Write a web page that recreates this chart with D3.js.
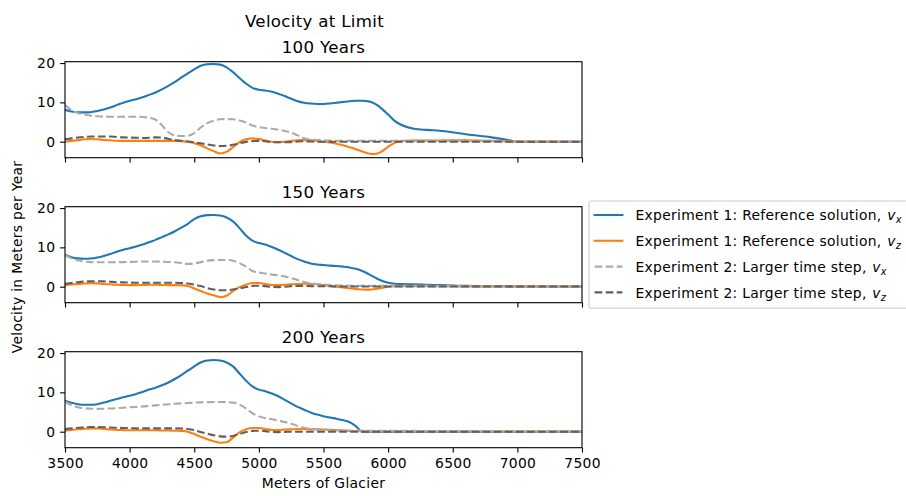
<!DOCTYPE html>
<html>
<head>
<meta charset="utf-8">
<script src="https://cdn.jsdelivr.net/npm/d3@7"></script>
<style>
  html, body { margin: 0; padding: 0; background: #fff; }
  svg { display: block; font-family: "DejaVu Sans", sans-serif; }
  svg text { letter-spacing: 0.3px; }
</style>
</head>
<body>
<svg id="chart" width="906" height="496"></svg>
<script>
// Sampling positions along the glacier (m)
const xs = [
  3500, 3550, 3600, 3650, 3700, 3750, 3800, 3850, 3900, 3950,
  4000, 4050, 4100, 4150, 4200, 4250, 4300, 4350, 4400, 4450,
  4500, 4550, 4600, 4650, 4700, 4750, 4800, 4850, 4900, 4950,
  5000, 5050, 5100, 5150, 5200, 5250, 5300, 5350, 5400, 5450,
  5500, 5550, 5600, 5650, 5700, 5750, 5800, 5850, 5900, 5950,
  6000, 6050, 6100,
  6200, 6300, 6400, 6500, 6600, 6700, 6800, 6900, 7000, 7100, 7200, 7300, 7400, 7500
];

const panelTitles = ["100 Years", "150 Years", "200 Years"];
const xTicks = [3500, 4000, 4500, 5000, 5500, 6000, 6500, 7000, 7500];
const yTicks = [0, 10, 20];

// ---- 100 years ----
const vx1_100 = [
  8.1, 7.7, 7.5, 7.45, 7.5, 7.8, 8.2, 8.7, 9.3, 9.9,
  10.4, 10.8, 11.3, 11.9, 12.5, 13.3, 14.2, 15.2, 16.3, 17.4,
  18.4, 19.3, 19.7, 19.75, 19.6, 18.9, 17.7, 16.2, 14.8, 13.7,
  13.2, 13.0, 12.7, 12.2, 11.6, 10.9, 10.3, 9.9, 9.7, 9.6,
  9.6, 9.7, 9.9, 10.1, 10.3, 10.4, 10.4, 10.25, 9.6, 8.4,
  6.9, 5.3, 4.3,
  3.3, 3.0, 2.8, 2.4, 1.9, 1.5, 1.1, 0.6, 0.0, 0, 0, 0, 0, 0
];
const vz1_100 = [
  0.0, 0.2, 0.4, 0.6, 0.7, 0.6, 0.45, 0.35, 0.25, 0.2,
  0.2, 0.2, 0.2, 0.2, 0.2, 0.2, 0.2, 0.2, 0.1, 0.0,
  -0.4, -0.9, -1.7, -2.4, -3.0, -2.6, -1.4, -0.1, 0.6, 0.85,
  0.65, 0.3, 0.0, -0.1, 0.0, 0.2, 0.35, 0.4, 0.35, 0.2,
  0.0, -0.2, -0.5, -0.9, -1.4, -1.9, -2.5, -3.0, -3.15, -2.5,
  -1.3, -0.3, 0.15,
  0.3, 0.3, 0.3, 0.35, 0.35, 0.3, 0.25, 0.15, 0.05, 0, 0, 0, 0, 0
];
const vx2_100 = [
  9.4, 8.0, 7.3, 6.9, 6.6, 6.45, 6.4, 6.35, 6.35, 6.35,
  6.35, 6.35, 6.3, 6.1, 5.6, 4.2, 2.4, 1.6, 1.45, 1.5,
  2.2, 3.6, 4.7, 5.3, 5.7, 5.75, 5.7, 5.4, 4.9, 4.1,
  3.7, 3.5, 3.3, 3.05, 2.7, 2.3, 1.6, 0.9, 0.55, 0.45,
  0.35, 0.3, 0.25, 0.25, 0.2, 0.2, 0.2, 0.2, 0.2, 0.2,
  0.2, 0.2, 0.2,
  0.2, 0.2, 0.2, 0.2, 0.15, 0.15, 0.1, 0.1, 0.05, 0.05, 0.05, 0.05, 0.05, 0.05
];
const vz2_100 = [
  0.6, 0.85, 1.05, 1.2, 1.3, 1.3, 1.3, 1.3, 1.2, 1.1,
  1.05, 1.0, 0.95, 1.0, 1.1, 1.05, 0.7, 0.4, 0.2, 0.05,
  -0.15, -0.4, -0.7, -0.95, -1.1, -1.05, -0.8, -0.4, -0.05, 0.15,
  0.2, 0.1, -0.1, -0.15, -0.15, -0.1, 0.05, 0.1, 0.05, 0.0,
  0, 0, 0, 0, 0, 0, 0, 0, 0, 0,
  0, 0, 0,
  0, 0, 0, 0, 0, 0, 0, 0, 0, 0, 0, 0, 0, 0
];

// ---- 150 years ----
const vx1_150 = [
  8.1, 7.5, 7.2, 7.1, 7.15, 7.4, 7.8, 8.3, 8.9, 9.4,
  9.8, 10.2, 10.7, 11.3, 11.9, 12.6, 13.3, 14.1, 15.0, 16.0,
  17.2, 17.9, 18.2, 18.25, 18.1, 17.6, 16.6, 14.9, 13.0, 11.7,
  11.1, 10.7, 10.1, 9.4, 8.6, 7.8, 7.0, 6.4, 5.9, 5.65,
  5.5, 5.35, 5.25, 5.1, 4.9, 4.55, 4.0, 3.2, 2.3, 1.5,
  1.0, 0.75, 0.65,
  0.6, 0.5, 0.4, 0.3, 0.2, 0.15, 0.1, 0.1, 0.05, 0.05, 0.05, 0.05, 0.05, 0.05
];
const vz1_150 = [
  0.4, 0.55, 0.7, 0.8, 0.9, 0.85, 0.7, 0.6, 0.5, 0.45,
  0.4, 0.4, 0.45, 0.5, 0.5, 0.45, 0.4, 0.4, 0.35, 0.2,
  -0.45, -1.1, -1.75, -2.2, -2.65, -2.3, -1.1, -0.1, 0.5, 0.95,
  0.95, 0.7, 0.45, 0.4, 0.5, 0.6, 0.7, 0.75, 0.7, 0.6,
  0.4, 0.2, 0.0, -0.2, -0.4, -0.6, -0.7, -0.75, -0.6, -0.3,
  0.0, 0.1, 0.1,
  0.1, 0.1, 0.1, 0.1, 0.05, 0.05, 0.05, 0.05, 0.05, 0.05, 0.05, 0.05, 0.05, 0.05
];
const vx2_150 = [
  8.1, 7.2, 6.7, 6.4, 6.25, 6.2, 6.2, 6.2, 6.25, 6.25,
  6.3, 6.35, 6.4, 6.4, 6.4, 6.35, 6.3, 6.2, 6.0, 5.8,
  5.9, 6.25, 6.6, 6.75, 6.8, 6.8, 6.6, 6.0, 5.1, 4.0,
  3.6, 3.35, 3.1, 2.9, 2.6, 2.2, 1.7, 1.2, 0.85, 0.7,
  0.55, 0.4, 0.35, 0.3, 0.25, 0.25, 0.2, 0.2, 0.2, 0.2,
  0.2, 0.2, 0.2,
  0.2, 0.2, 0.15, 0.15, 0.1, 0.1, 0.1, 0.1, 0.05, 0.05, 0.05, 0.05, 0.05, 0.05
];
const vz2_150 = [
  0.75, 0.95, 1.15, 1.3, 1.4, 1.4, 1.35, 1.25, 1.15, 1.1,
  1.05, 1.0, 1.0, 1.0, 1.0, 1.0, 1.0, 1.0, 0.95, 0.8,
  0.55, 0.15, -0.35, -0.7, -0.9, -0.9, -0.7, -0.45, -0.1, 0.2,
  0.25, 0.15, -0.05, -0.1, 0.0, 0.15, 0.2, 0.2, 0.15, 0.1,
  0.1, 0.1, 0.05, 0.05, 0.05, 0.05, 0.05, 0.05, 0.05, 0.05,
  0.05, 0.05, 0.05,
  0.05, 0.05, 0.05, 0.05, 0.05, 0.05, 0.05, 0.05, 0.05, 0.05, 0.05, 0.05, 0.05, 0.05
];

// ---- 200 years ----
const vx1_200 = [
  7.9, 7.35, 7.0, 6.85, 6.85, 7.0, 7.4, 7.85, 8.3, 8.75,
  9.15, 9.6, 10.1, 10.7, 11.2, 11.8, 12.5, 13.4, 14.4, 15.5,
  16.6, 17.6, 18.1, 18.25, 18.1, 17.6, 16.6, 14.8, 13.0, 11.5,
  10.7, 10.3, 9.7, 9.0, 8.1, 7.2, 6.3, 5.6, 4.9, 4.35,
  3.95, 3.6, 3.3, 2.95, 2.45, 1.4, 0.0, 0, 0, 0,
  0, 0, 0,
  0, 0, 0, 0, 0, 0, 0, 0, 0, 0, 0, 0, 0, 0
];
const vz1_200 = [
  0.25, 0.45, 0.6, 0.75, 0.85, 0.85, 0.7, 0.55, 0.45, 0.4,
  0.35, 0.35, 0.35, 0.35, 0.35, 0.3, 0.3, 0.25, 0.2, 0.0,
  -0.6, -1.3, -1.9, -2.4, -2.8, -2.7, -1.5, -0.2, 0.6, 0.95,
  0.95, 0.7, 0.45, 0.45, 0.55, 0.6, 0.65, 0.65, 0.6, 0.6,
  0.55, 0.5, 0.4, 0.3, 0.2, 0.15, 0.1, 0.05, 0.05, 0.05,
  0.05, 0.05, 0.05,
  0.05, 0.05, 0.05, 0.05, 0.05, 0.05, 0.05, 0.05, 0.05, 0.05, 0.05, 0.05, 0.05, 0.05
];
const vx2_200 = [
  7.7, 6.7, 6.2, 5.95, 5.85, 5.8, 5.85, 5.9, 6.0, 6.1,
  6.2, 6.3, 6.4, 6.55, 6.7, 6.85, 7.0, 7.1, 7.2, 7.3,
  7.4, 7.45, 7.5, 7.55, 7.55, 7.5, 7.4, 6.9, 5.9, 4.7,
  3.9, 3.45, 3.15, 2.8, 2.45, 2.0, 1.5, 1.0, 0.75, 0.6,
  0.5, 0.4, 0.35, 0.3, 0.25, 0.2, 0.2, 0.2, 0.2, 0.2,
  0.2, 0.2, 0.2,
  0.2, 0.15, 0.15, 0.1, 0.1, 0.1, 0.05, 0.05, 0.05, 0.05, 0.05, 0.05, 0.05, 0.05
];
const vz2_200 = [
  0.65, 0.85, 1.0, 1.1, 1.2, 1.2, 1.15, 1.05, 1.0, 0.95,
  0.9, 0.85, 0.85, 0.85, 0.85, 0.85, 0.85, 0.85, 0.8, 0.7,
  0.4, -0.1, -0.5, -0.9, -1.2, -1.25, -1.1, -0.6, -0.1, 0.2,
  0.25, 0.15, -0.05, -0.1, -0.05, 0, 0, 0, 0, 0,
  0, 0, 0, 0, 0, 0, 0, 0, 0, 0,
  0, 0, 0,
  0, 0, 0, 0, 0, 0, 0, 0, 0, 0, 0, 0, 0, 0
];

// Legend entries: plain text part and the velocity component subscript
const seriesNames = [
  ["Experiment 1: Reference solution, ", "x"],
  ["Experiment 1: Reference solution, ", "z"],
  ["Experiment 2: Larger time step, ", "x"],
  ["Experiment 2: Larger time step, ", "z"]
];

const panelSeries = [
  [vx1_100, vz1_100, vx2_100, vz2_100],
  [vx1_150, vz1_150, vx2_150, vz2_150],
  [vx1_200, vz1_200, vx2_200, vz2_200]
];

// ---- drawing ----
const PT = 100 / 72;                       // points -> pixels
const fontTick = 10 * PT, fontTitle = 12 * PT;
const styles = [
  { color: "#1f77b4", dash: null },
  { color: "#ff7f0e", dash: null },
  { color: "#aaaaaa", dash: [3.7 * 1.5 * PT, 1.6 * 1.5 * PT] },
  { color: "#5f5f5f", dash: [3.7 * 1.5 * PT, 1.6 * 1.5 * PT] }
];

const svg = d3.select("#chart");
const axLeft = 65, axRight = 582, axH = 96;
const axTops = [61.7, 206.7, 351.7];
const x = d3.scaleLinear().domain([3500, 7500]).range([axLeft, axRight]);

svg.append("text")
  .attr("x", 314.5).attr("y", 27)
  .attr("text-anchor", "middle")
  .attr("font-size", fontTitle)
  .attr("fill", "#000")
  .text("Velocity at Limit");

panelSeries.forEach((series, p) => {
  const top = axTops[p];
  const y = d3.scaleLinear().domain([-4.07, 20.34]).range([top + axH, top]);
  const g = svg.append("g");

  const clipId = "clip" + p;
  svg.append("clipPath").attr("id", clipId)
    .append("rect")
    .attr("x", axLeft).attr("y", top)
    .attr("width", axRight - axLeft).attr("height", axH);

  const line = d3.line()
    .x((d, i) => x(xs[i]))
    .y(d => y(d))
    .curve(d3.curveMonotoneX);

  const lines = g.append("g").attr("clip-path", `url(#${clipId})`);
  series.forEach((vals, s) => {
    lines.append("path")
      .datum(vals)
      .attr("d", line)
      .attr("fill", "none")
      .attr("stroke", styles[s].color)
      .attr("stroke-width", 1.5 * PT)
      .attr("stroke-linejoin", "round")
      .attr("stroke-linecap", styles[s].dash ? "butt" : "square")
      .attr("stroke-dasharray", styles[s].dash ? styles[s].dash.join(",") : null);
  });

  // axes
  const yAxis = d3.axisLeft(y).tickValues(yTicks)
    .tickSize(3.5 * PT).tickPadding(3.5 * PT).tickFormat(d3.format("d"));
  const ya = g.append("g").attr("transform", `translate(${axLeft},0)`).call(yAxis);

  const xAxis = d3.axisBottom(x).tickValues(xTicks)
    .tickSize(3.5 * PT).tickPadding(3.5 * PT)
    .tickFormat(p === 2 ? d3.format("d") : () => "");
  const xa = g.append("g").attr("transform", `translate(0,${top + axH})`).call(xAxis);

  [ya, xa].forEach(a => {
    a.select(".domain").remove();
    a.attr("font-family", null).attr("font-size", null);
    a.selectAll(".tick line").attr("stroke", "#000").attr("stroke-width", 0.8 * PT);
    a.selectAll(".tick text").attr("fill", "#000").attr("font-size", fontTick);
  });
  xa.selectAll(".tick text").attr("dy", "0.76em");

  // frame
  g.append("rect")
    .attr("x", axLeft).attr("y", top)
    .attr("width", axRight - axLeft).attr("height", axH)
    .attr("fill", "none")
    .attr("stroke", "#000")
    .attr("stroke-width", 0.8 * PT);

  g.append("text")
    .attr("x", (axLeft + axRight) / 2).attr("y", top - 6 * PT)
    .attr("text-anchor", "middle")
    .attr("font-size", fontTitle)
    .attr("fill", "#000")
    .text(panelTitles[p]);
});

// axis labels
svg.append("text")
  .attr("x", (axLeft + axRight) / 2).attr("y", 487.5)
  .attr("text-anchor", "middle")
  .attr("font-size", fontTick)
  .attr("fill", "#000")
  .text("Meters of Glacier");

svg.append("text")
  .attr("transform", "translate(21.5,257) rotate(-90)")
  .attr("text-anchor", "middle")
  .attr("font-size", fontTick)
  .attr("fill", "#000")
  .text("Velocity in Meters per Year");

// legend
const lg = svg.append("g");
lg.append("rect")
  .attr("x", 589).attr("y", 201)
  .attr("width", 340).attr("height", 107.3)
  .attr("rx", 2.8).attr("ry", 2.8)
  .attr("fill", "#fff").attr("fill-opacity", 0.8)
  .attr("stroke", "#cccccc").attr("stroke-width", 0.8 * PT);

seriesNames.forEach((nm, i) => {
  const cy = 215 + i * 25.8;
  const st = styles[i];
  lg.append("line")
    .attr("x1", 594.6).attr("x2", 622.4)
    .attr("y1", cy).attr("y2", cy)
    .attr("stroke", st.color)
    .attr("stroke-width", 1.5 * PT)
    .attr("stroke-linecap", st.dash ? "butt" : "square")
    .attr("stroke-dasharray", st.dash ? st.dash.join(",") : null);
  const t = lg.append("text")
    .attr("x", 635.5).attr("y", cy + 5.3)
    .attr("font-size", fontTick)
    .attr("fill", "#000");
  t.append("tspan").text(nm[0]);
  t.append("tspan").attr("font-style", "italic").attr("dx", 1).text("v");
  t.append("tspan").attr("font-style", "italic")
    .attr("font-size", fontTick * 0.7).attr("dy", 2.8).text(nm[1]);
});
</script>
</body>
</html>
